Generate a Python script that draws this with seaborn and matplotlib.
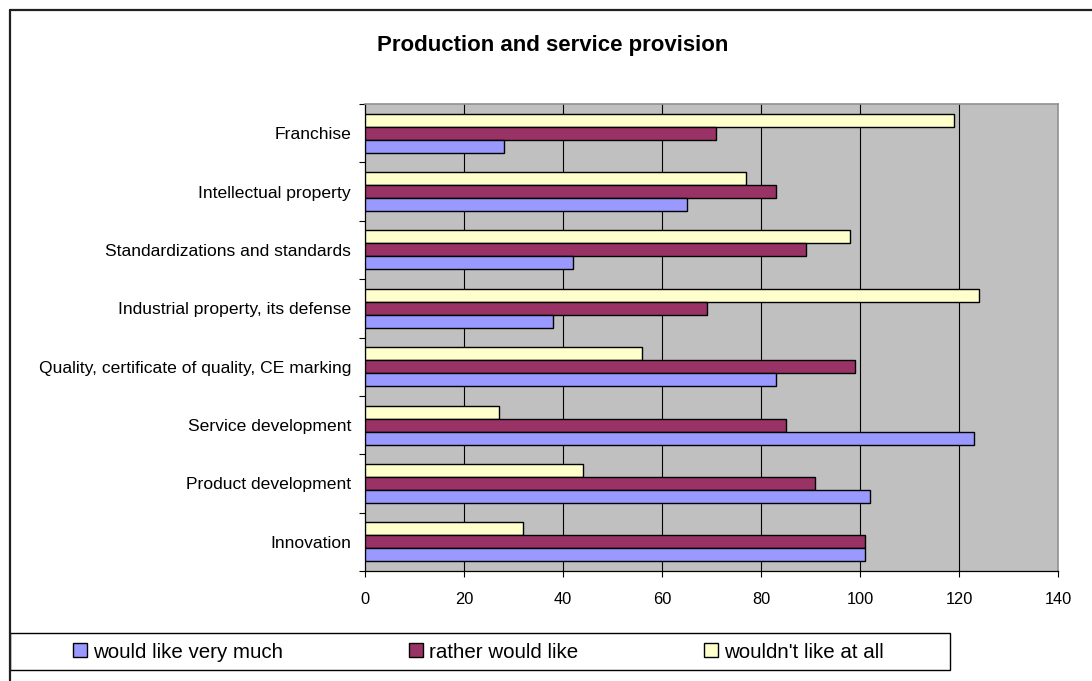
import matplotlib
matplotlib.use("Agg")
import matplotlib.pyplot as plt
from matplotlib.patches import Patch, Rectangle
from matplotlib.lines import Line2D
import numpy as np
import pandas as pd
import seaborn as sns

# Survey data: number of answers per topic
categories = [
    "Franchise",
    "Intellectual property",
    "Standardizations and standards",
    "Industrial property, its defense",
    "Quality, certificate of quality, CE marking",
    "Service development",
    "Product development",
    "Innovation",
]
very_much = [28, 65, 42, 38, 83, 123, 102, 101]
rather = [71, 83, 89, 69, 99, 85, 91, 101]
not_at_all = [119, 77, 98, 124, 56, 27, 44, 32]

series_names = ["would like very much", "rather would like", "wouldn't like at all"]
series_colors = ["#9999FF", "#993366", "#FFFFCC"]
x_ticks = [0, 20, 40, 60, 80, 100, 120, 140]
title = "Production and service provision"

sns.set_style("white")
plt.rcParams["font.family"] = ["Liberation Sans", "DejaVu Sans"]
plt.rcParams["text.color"] = "black"
plt.rcParams["xtick.color"] = "black"
plt.rcParams["ytick.color"] = "black"

rows = []
for name, vals in zip(series_names, [very_much, rather, not_at_all]):
    for cat, v in zip(categories, vals):
        rows.append({"category": cat, "series": name, "value": v})
df = pd.DataFrame(rows)

W, H = 1092, 681
fig = plt.figure(figsize=(W / 100, H / 100), dpi=100)
fig.patch.set_facecolor("white")

ax = fig.add_axes([365 / W, 1 - 571 / H, (1058 - 365) / W, (571 - 104) / H])
ax.set_facecolor("#C0C0C0")

palette = dict(zip(series_names, series_colors))
hue_order = [series_names[2], series_names[1], series_names[0]]
sns.barplot(
    data=df, y="category", x="value", hue="series", order=categories,
    hue_order=hue_order, palette=palette, orient="h", width=3 / 4.5,
    gap=0, edgecolor="black", linewidth=1.0, saturation=1, legend=False,
    errorbar=None, ax=ax, zorder=3,
)

ax.set_xlim(0, 140)
ax.set_ylim(len(categories) - 0.5, -0.5)
ax.set_xticks(x_ticks)
ax.set_xticklabels([str(t) for t in x_ticks])
for t in x_ticks[1:-1]:
    ax.axvline(t, color="black", lw=0.8, zorder=1)

ax.set_xlabel("")
ax.set_ylabel("")

# category boundaries carry the tick marks, labels sit at the centres
ax.set_yticks(np.arange(len(categories)))
ax.set_yticklabels(categories)
ax.set_yticks(np.arange(len(categories) + 1) - 0.5, minor=True)
ax.tick_params(axis="y", which="major", length=0, pad=10, labelsize=12.6)
ax.tick_params(axis="y", which="minor", length=4, width=0.8, color="black", direction="out", left=True)
ax.tick_params(axis="x", which="major", length=4, width=0.8, color="black", direction="out",
               bottom=True, pad=11, labelsize=11.8)

for side in ["left", "bottom"]:
    ax.spines[side].set_color("black")
    ax.spines[side].set_linewidth(0.9)
for side in ["top", "right"]:
    ax.spines[side].set_visible(True)
    ax.spines[side].set_color("#909090")
    ax.spines[side].set_linewidth(1.2)

fig.text(553 / W, 1 - 45 / H, title, ha="center", va="center",
         fontsize=16, fontweight="bold", color="black")

# chart frame (left and top edges)
fig.add_artist(Line2D([10 / W, 10 / W], [0, 1 - 10 / H], color="#202020", lw=1.6,
                      transform=fig.transFigure))
fig.add_artist(Line2D([10 / W, 1], [1 - 10 / H, 1 - 10 / H], color="#202020", lw=1.6,
                      transform=fig.transFigure))

# legend box
fig.add_artist(Rectangle((10 / W, 1 - 670 / H), 940 / W, 37 / H, transform=fig.transFigure,
                         facecolor="white", edgecolor="black", lw=1.0))
handles = [Patch(facecolor=c, edgecolor="black", lw=1.0) for c in series_colors]
fig.legend(handles, series_names, loc="center left", bbox_to_anchor=(73 / W, 1 - 652 / H),
           ncol=3, frameon=False, fontsize=14.8, handlelength=0.66, handleheight=0.66,
           handletextpad=0.3, columnspacing=6.15, borderpad=0, borderaxespad=0)

fig.savefig("out.png", dpi=100, facecolor="white")
